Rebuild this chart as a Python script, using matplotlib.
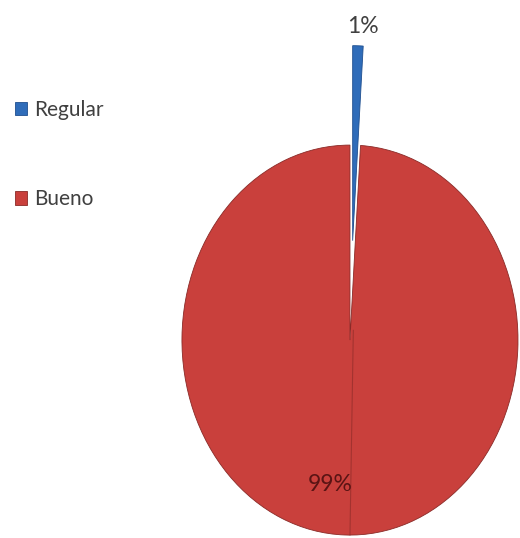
import matplotlib
matplotlib.use('Agg')
import matplotlib.pyplot as plt

categories = ['Regular', 'Bueno']
values = [1, 99]
colors = ['#2f6cb9', '#c9403c']
explode = [0.51, 0]

plt.rcParams['font.family'] = ['Lato', 'DejaVu Sans']

fig = plt.figure(figsize=(5.2, 5.38), dpi=100)
ax = fig.add_axes([0, 0, 1, 1])

wedges, texts, autotexts = ax.pie(
    values, colors=colors, explode=explode, startangle=90,
    counterclock=False, autopct='%1.0f%%', pctdistance=0.6,
    wedgeprops=dict(edgecolor='#8a2a27', linewidth=0.6),
    textprops=dict(fontsize=16.5, color='#404040'))
wedges[0].set_edgecolor('#1f4f8f')

# label positions as drawn in the reference
autotexts[0].set_position((0.077, 1.61))
autotexts[1].set_position((-0.12, -0.74))
autotexts[1].set_color('#5a1414')

# faint seam running down the lower half
ax.plot([0.02, 0.0], [0.05, -1.0], color='#8a2a27', lw=0.8, alpha=0.6)

ax.set_aspect('auto')
ax.set_xlim(-2.083, 1.012)
ax.set_ylim(-1.015, 1.744)
ax.axis('off')

leg = ax.legend(wedges, categories, loc='upper left',
                bbox_to_anchor=(0.028, 0.815), bbox_transform=fig.transFigure,
                frameon=False, fontsize=15, labelspacing=3.35,
                handlelength=0.6, handleheight=0.6, handletextpad=0.35,
                borderpad=0, borderaxespad=0)
for t in leg.get_texts():
    t.set_color('#404040')

fig.savefig('out.png', dpi=100)
